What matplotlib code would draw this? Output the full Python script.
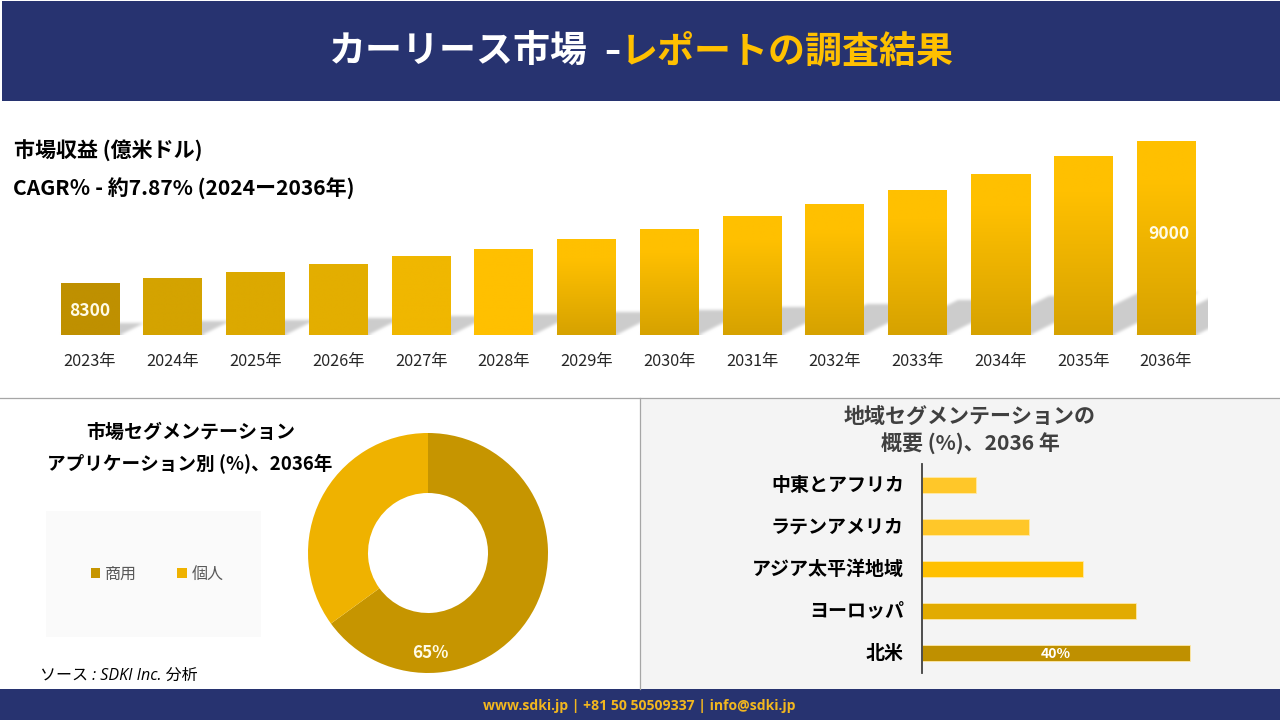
import numpy as np
import matplotlib
matplotlib.use('Agg')
import matplotlib.pyplot as plt
from matplotlib.patches import Rectangle
from matplotlib.colors import to_rgb
from matplotlib.transforms import ScaledTranslation

plt.rcParams['font.family'] = ['Noto Sans CJK JP', 'DejaVu Sans']

W, H = 1280, 720
PT = 0.72  # pt per px at dpi 100

# ---- data ----
years = ['2023年', '2024年', '2025年', '2026年', '2027年', '2028年', '2029年',
         '2030年', '2031年', '2032年', '2033年', '2034年', '2035年', '2036年']
revenue = [8300, 8329, 8358, 8393, 8432, 8471, 8520, 8569, 8628, 8691, 8760, 8838, 8926, 9000]
revenue_axis_floor = 8050
revenue_labels = {0: '8300', 13: '9000'}

segments = ['商用', '個人']
segment_share = [65, 35]

regions = ['中東とアフリカ', 'ラテンアメリカ', 'アジア太平洋地域', 'ヨーロッパ', '北米']
region_share = [8, 16, 24, 32, 40]

# ---- styles ----
NAVY = '#273370'
bar_top = ['#BF9000', '#D4A300', '#DCA900', '#E3AE00', '#F0B700', '#FFC000', '#FFC000',
           '#FFC000', '#FFC000', '#FFC000', '#FFC000', '#FFC000', '#FFC000', '#FFC000']
bar_bot = ['#BF9000', '#D4A300', '#DCA900', '#E3AE00', '#F0B700', '#FFC000', '#D6A200',
           '#D6A200', '#D6A200', '#D6A200', '#D6A200', '#D6A200', '#D6A200', '#D6A200']
seg_colors = ['#C69500', '#EFB200']
reg_colors = ['#FFC729', '#FFC729', '#FFC000', '#E2AB00', '#BF9000']


def rect(x0, y0, x1, y1):
    return [x0 / W, 1 - y1 / H, (x1 - x0) / W, (y1 - y0) / H]


def box_blur(a, r, passes=3):
    kernel = np.ones(2 * r + 1) / (2 * r + 1)
    for _ in range(passes):
        a = np.apply_along_axis(lambda v: np.convolve(np.pad(v, r, mode='edge'), kernel, mode='valid'), 0, a)
        a = np.apply_along_axis(lambda v: np.convolve(np.pad(v, r, mode='edge'), kernel, mode='valid'), 1, a)
    return a


fig = plt.figure(figsize=(12.8, 7.2), dpi=100, facecolor='white')

# ---- page background in pixel coordinates ----
bg = fig.add_axes([0, 0, 1, 1], zorder=0)
bg.set_xlim(0, W)
bg.set_ylim(H, 0)
bg.axis('off')
bg.add_patch(Rectangle((640.5, 398), 639.5, 291, fc='#F4F4F4', ec='none'))
bg.add_patch(Rectangle((2, 1), 1278, 100, fc=NAVY, ec='none'))
bg.add_patch(Rectangle((0, 689), 1280, 31, fc=NAVY, ec='none'))
bg.add_patch(Rectangle((46, 511), 215, 126, fc='#FAFAFA', ec='none'))
bg.plot([0, 1280], [397.5, 397.5], color='#A6A6A6', lw=0.9)
bg.plot([640, 640], [397.5, 689], color='#A6A6A6', lw=0.9)

# header
bg.text(588, 52, 'カーリース市場', color='white', fontsize=37 * PT, fontweight='bold',
        ha='right', va='center')
bg.text(612, 52, '–', color='white', fontsize=32 * PT, fontweight='bold',
        family='DejaVu Sans', ha='center', va='center')
bg.text(621, 52, 'レポートの調査結果', color='#FFC000', fontsize=37 * PT, fontweight='bold',
        ha='left', va='center')

# revenue headings
bg.text(14, 151, '市場収益 (億米ドル)', color='black', fontsize=21 * PT, fontweight='bold',
        ha='left', va='center')
bg.text(13, 189, 'CAGR％ - 約7.87% (2024ー2036年)', color='black', fontsize=21 * PT,
        fontweight='bold', ha='left', va='center')

# segment headings
bg.text(191, 432, '市場セグメンテーション', color='black', fontsize=19 * PT, fontweight='bold',
        ha='center', va='center')
bg.text(190, 463, 'アプリケーション別 (%)、2036年', color='black', fontsize=18.6 * PT,
        fontweight='bold', ha='center', va='center')
bg.text(970, 417.5, '地域セグメンテーションの', color='#404040', fontsize=21 * PT, fontweight='bold',
        ha='center', va='center')
bg.text(970, 443.5, '概要 (%)、2036 年', color='#404040', fontsize=21 * PT, fontweight='bold',
        ha='center', va='center')

# source and footer
bg.text(40, 676, 'ソース : SDKI Inc. 分析', color='black', fontsize=16 * PT, style='italic',
        family=['Open Sans', 'Noto Sans CJK JP'], ha='left', va='center')
bg.text(639, 706, 'www.sdki.jp | +81 50 50509337 | info@sdki.jp', color='#F2B71F',
        fontsize=14 * PT, fontweight='bold', family=['Open Sans', 'DejaVu Sans'],
        ha='center', va='center')

# ---- revenue bars ----
ax_x0, ax_x1, ax_y0, ax_y1 = 48, 1208, 130, 335
ax = fig.add_axes(rect(ax_x0, ax_y0, ax_x1, ax_y1), zorder=1)
ax.patch.set_alpha(0)
step = (1166 - 90) / 13
xlim = ((ax_x0 - 90) / step, (ax_x1 - 90) / step)
px_per_val = 194 / (revenue[-1] - revenue_axis_floor)
ylim = (revenue_axis_floor, revenue_axis_floor + (ax_y1 - ax_y0) / px_per_val)
xs = np.arange(len(years))
bar_w = 59 / step
bars = ax.bar(xs, np.array(revenue) - revenue_axis_floor, bottom=revenue_axis_floor,
              width=bar_w, color='none', edgecolor='none', zorder=3)

# soft cast shadow of all bars: each bar skewed up and to the right, then blurred
grid_w, grid_h = int(ax_x1 - ax_x0) + 40, int(ax_y1 - ax_y0)
gx, gy = np.meshgrid(np.arange(grid_w) + 0.5, np.arange(grid_h) + 0.5)  # px from axes left / base
cover = np.zeros_like(gx)
for i, b in enumerate(bars):
    h_px = (revenue[i] - revenue_axis_floor) * px_per_val
    left_px = (b.get_x() - xlim[0]) * step
    right_px = left_px + b.get_width() * step
    cover[(gy < 0.24 * h_px) & (gx - 2 * gy >= left_px) & (gx - 2 * gy <= right_px)] = 1
cover = box_blur(cover, 1)
shade = np.dstack([np.full_like(cover, 0.80)] * 3 + [cover])
ax.imshow(shade, extent=(xlim[0], xlim[0] + grid_w / step, ylim[0], ylim[0] + grid_h / px_per_val),
          origin='lower', aspect='auto', zorder=1, interpolation='bilinear')

t = np.linspace(0, 1, 128)[:, None]
for i, b in enumerate(bars):
    # bar body with vertical gradient
    x0, x1 = b.get_x(), b.get_x() + b.get_width()
    c0, c1 = np.array(to_rgb(bar_bot[i])), np.array(to_rgb(bar_top[i]))
    ramp = np.clip(t / 0.8, 0, 1)
    grad = (c0[None, None, :] * (1 - ramp[:, :, None]) + c1[None, None, :] * ramp[:, :, None])
    ax.imshow(grad, extent=(x0, x1, revenue_axis_floor, revenue[i]), origin='lower',
              aspect='auto', zorder=3, interpolation='bilinear')

for i, label in revenue_labels.items():
    y_val = revenue_axis_floor + (revenue[i] - revenue_axis_floor) * (0.5 if i == 0 else 0.53)
    txt = ax.text(i + (0 if i == 0 else 0.035), y_val, label, color='#FFFBE6', fontsize=17.5 * PT,
                  fontweight='bold', ha='center', va='center', zorder=4)
    txt.set_transform(txt.get_transform() + ScaledTranslation(0, -2 / 100, fig.dpi_scale_trans))

ax.set_xlim(*xlim)
ax.set_ylim(*ylim)
ax.set_xticks(xs, years, fontsize=16.3 * PT, color='#262626')
ax.tick_params(axis='x', length=0, pad=13)
ax.set_yticks([])
for s in ax.spines.values():
    s.set_visible(False)

# ---- donut ----
ax2 = fig.add_axes(rect(308, 433, 548, 673), zorder=1)
wedges, _ = ax2.pie(segment_share, colors=seg_colors, startangle=90, counterclock=False,
                    radius=1, wedgeprops={'width': 0.5, 'linewidth': 0})
ax2.set_xlim(-1, 1)
ax2.set_ylim(-1, 1)
ax2.text(0.02, -0.835, f'{segment_share[0]}%', color='#FFFBE6', fontsize=17 * PT,
         fontweight='bold', ha='center', va='center')
fig.legend(wedges, segments, loc='center', bbox_to_anchor=(157 / W, 1 - 574 / H), ncol=2,
           frameon=False, fontsize=16 * PT, labelcolor='#595959', handlelength=0.6,
           handleheight=0.6, handletextpad=0.3, columnspacing=2.5)

# ---- regional bars ----
ax3 = fig.add_axes(rect(922, 464, 1200, 673), zorder=1)
ax3.patch.set_alpha(0)
ypos = np.arange(len(regions))
ax3.barh(ypos, region_share, height=16 / 42, color=reg_colors, edgecolor='#FFE9A8', linewidth=0.6)
ax3.set_xlim(0, 278 / 6.7)
ax3.set_ylim(4.476, -0.5)
ax3.set_yticks(ypos, regions, fontsize=19 * PT, fontweight='bold', color='black')
ax3.tick_params(axis='y', length=0, pad=13)
lift = ScaledTranslation(0, 2 / 100, fig.dpi_scale_trans)
for lab in ax3.get_yticklabels():
    lab.set_transform(lab.get_transform() + lift)
ax3.set_xticks([])
for name, s in ax3.spines.items():
    s.set_visible(name == 'left')
ax3.spines['left'].set_color('#404040')
ax3.spines['left'].set_linewidth(1.3)
ax3.text(region_share[-1] / 2, ypos[-1] + 0.02, f'{region_share[-1]}%', color='white',
         fontsize=14 * PT, fontweight='bold', ha='center', va='center')

fig.savefig('out.png', dpi=100, facecolor='white')
